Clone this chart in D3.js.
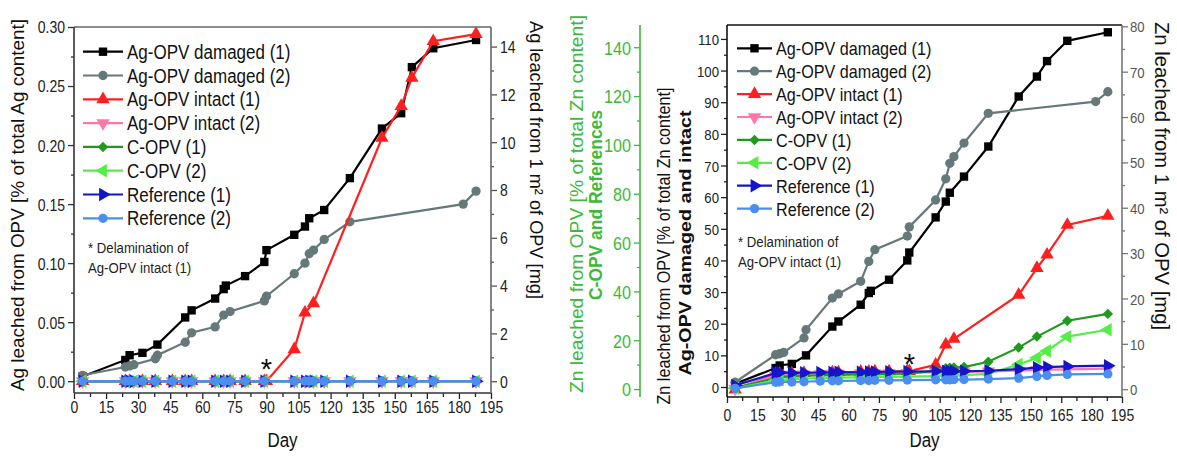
<!DOCTYPE html>
<html><head><meta charset="utf-8">
<script src="https://cdn.jsdelivr.net/npm/d3@7"></script>
<style>body{margin:0;background:#fff}svg{display:block}</style>
</head><body><svg id="c" width="1177" height="457"></svg>
<script>
// ---------------- DATA ----------------
const seriesNames = ["Ag-OPV damaged (1)","Ag-OPV damaged (2)","Ag-OPV intact (1)","Ag-OPV intact (2)","C-OPV (1)","C-OPV (2)","Reference (1)","Reference (2)"];
const xTicks = [0,15,30,45,60,75,90,105,120,135,150,165,180,195];
const agTicks = [0.00,0.05,0.10,0.15,0.20,0.25,0.30];
const agMgTicks = [0,2,4,6,8,10,12,14];
const znTicks = [0,10,20,30,40,50,60,70,80,90,100,110];
const znGreenTicks = [0,20,40,60,80,100,120,140];
const znMgTicks = [0,10,20,30,40,50,60,70,80];

// Left panel: Ag leached [% of total Ag content]
const agDamaged1Days = [4,24,26,32,39,52,55,66,70,71,80,89,90,103,108,110,117,129,144,153,158,168,188];
const agDamaged1 = [0.004,0.018,0.022,0.024,0.031,0.054,0.060,0.070,0.078,0.081,0.089,0.101,0.111,0.124,0.131,0.138,0.145,0.172,0.214,0.227,0.266,0.282,0.289];
const agDamaged2Days = [4,24,26,28,38,39,52,55,66,70,73,89,90,103,108,110,112,117,129,182,188];
const agDamaged2 = [0.005,0.012,0.013,0.014,0.019,0.022,0.033,0.041,0.046,0.056,0.059,0.068,0.072,0.091,0.100,0.108,0.111,0.120,0.135,0.150,0.161];
const agIntact1Days = [4,24,26,32,38,46,52,55,66,70,73,80,89,90,103,108,112,144,153,158,168,188];
const agIntact1 = [0,0,0,0,0,0,0,0,0,0,0,0,0,0,0.027,0.058,0.066,0.206,0.233,0.257,0.288,0.294];
const agBaseDays = [4,24,26,28,32,38,46,52,55,66,70,73,80,89,103,108,110,112,117,129,144,153,158,168,188];
const agIntact2 = [0,0,0,0,0,0,0,0,0,0,0,0,0,0,0,0,0,0,0,0,0,0,0,0,0];
const agCOPV1   = [0,0,0,0,0,0,0,0,0,0,0,0,0,0,0,0,0,0,0,0,0,0,0,0,0];
const agCOPV2   = [0,0,0,0,0,0,0,0,0,0,0,0,0,0,0,0,0,0,0,0,0,0,0,0,0];
const agRef1    = [0,0,0,0,0,0,0,0,0,0,0,0,0,0,0,0,0,0,0,0,0,0,0,0,0];
const agRef2    = [0,0,0,0,0,0,0,0,0,0,0,0,0,0,0,0,0,0,0,0,0,0,0,0,0];

// Right panel: Zn leached [% of total Zn content]
const znDamaged1Days = [4,24,26,32,39,52,55,66,70,71,80,89,90,103,108,110,117,129,144,153,158,168,188];
const znDamaged1 = [1.0,6.0,6.8,7.3,10.0,19.1,20.7,26.0,29.7,30.4,33.9,40.0,42.5,53.6,58.6,61.4,66.5,76.0,91.8,98.1,103.0,109.4,112.1];
const znDamaged2Days = [4,24,26,28,38,39,52,55,66,70,73,89,90,103,108,110,112,117,129,182,188];
const znDamaged2 = [1.5,10.2,10.5,10.9,15.5,18.1,28.1,29.4,33.4,39.7,43.4,47.7,50.6,59.1,65.8,70.7,72.8,77.1,86.5,90.2,93.3];
const znIntact1Days = [4,24,26,32,38,52,55,66,70,73,80,89,90,103,108,112,144,153,158,168,188];
const znIntact1 = [-0.8,4.0,4.2,4.3,4.4,4.6,4.6,4.8,4.8,4.9,4.9,5.0,5.0,7.0,13.4,15.2,29.1,37.6,41.8,51.2,54.1];
const znBaseDays = [4,24,26,32,38,46,52,55,66,70,73,80,89,103,108,110,112,117,129,144,153,158,168,188];
const znIntact2 = [-0.5,3.6,3.8,3.9,4.0,4.1,4.2,4.2,4.3,4.3,4.4,4.4,4.5,4.6,4.6,4.6,4.7,4.7,4.9,5.2,5.4,5.5,5.6,5.8];
const znCOPV1Days = [4,24,26,32,38,46,52,55,66,70,73,80,89,103,108,110,112,117,129,144,153,168,188];
const znCOPV1 = [0.5,4.5,5.0,5.2,5.5,5.6,5.8,5.8,6.0,6.0,6.1,6.2,6.3,7.5,8.5,8.7,8.8,9.0,11.2,17.0,21.5,28.0,30.8];
const znCOPV2 = [0.3,3.5,3.8,4.0,4.3,4.5,4.6,4.7,4.8,4.9,5.0,5.0,5.1,5.3,5.5,5.5,5.6,5.7,6.2,10.1,12.8,15.6,21.5,24.3];
const znRef1 = [1.5,6.6,6.8,6.6,6.7,6.8,6.8,6.9,6.9,7.0,7.0,7.1,7.2,7.3,7.3,7.3,7.3,7.3,7.5,8.2,8.8,9.0,9.3,9.6];
const znRef2 = [0.3,2.8,3.0,2.9,3.0,3.3,3.4,3.4,3.5,3.5,3.6,3.6,3.7,3.8,3.8,3.8,3.9,3.9,4.1,4.5,5.2,5.6,6.0,6.2];

// ---------------- STYLE ----------------
const FONT = '"Liberation Sans", Arial, Helvetica, sans-serif';
const SQ = 0.85; // horizontal condensing of all text
const styles = [
  {color:"#000000", sym:"square"},
  {color:"#66797a", sym:"circle"},
  {color:"#ff1f1f", sym:"triUp"},
  {color:"#ff77a8", sym:"triDown"},
  {color:"#1f9a1f", sym:"diamond"},
  {color:"#55ee44", sym:"triLeft"},
  {color:"#1414cc", sym:"triRight"},
  {color:"#4a8ef0", sym:"circle"}
];
function symPath(s){
  if(s==="square") return {d:d3.symbol(d3.symbolSquare,70)(),rot:0};
  if(s==="circle") return {d:d3.symbol(d3.symbolCircle,68)(),rot:0};
  if(s==="diamond") return {d:d3.symbol(d3.symbolSquare,55)(),rot:45};
  const t=d3.symbol(d3.symbolTriangle,78)();
  return {d:t,rot:{triUp:0,triDown:180,triLeft:-90,triRight:90}[s]};
}
const svg = d3.select("#c");

function label(parent, s, o){
  const t = parent.append("text").text(s)
    .attr("font-family",FONT).attr("font-size",o.size||15)
    .attr("fill",o.fill||"#111").attr("font-weight",o.weight||"normal")
    .attr("text-anchor",o.anchor||"middle");
  const tr = `translate(${o.x},${o.y})` + (o.rot?` rotate(${o.rot})`:"");
  t.attr("transform",tr);
  const L = t.node().getComputedTextLength();
  const target = o.len || L*(o.sq===undefined?SQ:o.sq);
  t.attr("textLength",target).attr("lengthAdjust","spacingAndGlyphs");
  return t;
}

function styleAxis(g, o){
  g.select(".domain").remove();
  g.selectAll("line").attr("stroke",o.stroke||"#222").attr("stroke-width",1.3);
  g.selectAll("text").each(function(){
    const el=d3.select(this); const s=el.text(); const p=this.parentNode;
    const x=+el.attr("x")||0, y=+el.attr("y")||0;
    el.remove();
    if(s==="") return;
    label(d3.select(p), s, {x:o.dx!==undefined?o.dx:x, y:o.dy!==undefined?o.dy:y, size:o.size, fill:o.fill, anchor:o.anchor});
  });
}

function panel(p){
  const g = svg.append("g");
  const x = d3.scaleLinear().domain([0,195]).range([p.x0,p.x1]);
  const minorX = d3.range(7.5,195,15);
  g.append("g").attr("transform",`translate(0,${p.y1})`)
    .call(d3.axisBottom(x).tickValues(minorX).tickSize(4).tickFormat(""))
    .call(a=>{a.select(".domain").remove();a.selectAll("line").attr("stroke","#222").attr("stroke-width",1.3);});
  g.append("g").attr("transform",`translate(0,${p.y1})`)
    .call(d3.axisBottom(x).tickValues(xTicks).tickSize(6))
    .call(a=>styleAxis(a,{size:16.5,dy:p.xLabY,fill:"#222"}));
  for(const ax of p.yAxes){
    const gen = ax.side==="left"?d3.axisLeft:d3.axisRight;
    const ag = g.append("g").attr("transform",`translate(${ax.at},0)`);
    ag.append("g").call(gen(ax.scale).tickValues(ax.minor).tickSize(3).tickFormat(""))
      .call(a=>{a.select(".domain").remove();a.selectAll("line").attr("stroke",ax.stroke).attr("stroke-width",1.3);});
    ag.append("g").call(gen(ax.scale).tickValues(ax.ticks).tickSize(6).tickFormat(ax.fmt))
      .call(a=>styleAxis(a,{size:ax.size,fill:ax.fill,stroke:ax.stroke,anchor:ax.side==="left"?"end":"start",dx:ax.side==="left"?-ax.pad:ax.pad,dy:ax.size*0.36}));
    if(ax.line) ag.append("line").attr("x1",0).attr("x2",0).attr("y1",p.y0).attr("y2",p.y1).attr("stroke",ax.stroke).attr("stroke-width",1.6);
  }
  const f = p.frame;
  g.append("line").attr("x1",p.x0).attr("x2",p.x1).attr("y1",p.y0).attr("y2",p.y0).attr("stroke",f.top).attr("stroke-width",1.6);
  g.append("line").attr("x1",p.x0).attr("x2",p.x1).attr("y1",p.y1).attr("y2",p.y1).attr("stroke",f.bottom).attr("stroke-width",1.6);
  g.append("line").attr("x1",p.x0).attr("x2",p.x0).attr("y1",p.y0).attr("y2",p.y1).attr("stroke",f.left).attr("stroke-width",1.6);
  g.append("line").attr("x1",p.x1).attr("x2",p.x1).attr("y1",p.y0).attr("y2",p.y1).attr("stroke",f.right).attr("stroke-width",1.6);
  const plot = g.append("g");
  p.series.forEach((s,i)=>{
    const st = styles[i];
    const pts = s.days.map((d,j)=>[x(d), s.scale(s.vals[j])]);
    plot.append("path").attr("d",d3.line()(pts)).attr("fill","none").attr("stroke",st.color).attr("stroke-width",2.2);
    const sp = symPath(st.sym);
    plot.selectAll(null).data(pts).join("path").attr("d",sp.d)
      .attr("transform",d=>`translate(${d[0]},${d[1]}) rotate(${sp.rot})`).attr("fill",st.color);
  });
  const lg = g.append("g");
  seriesNames.forEach((n,i)=>{
    const st = styles[i]; const cy = p.leg.y + i*p.leg.dy;
    lg.append("line").attr("x1",p.leg.x).attr("x2",p.leg.x+p.leg.w).attr("y1",cy).attr("y2",cy).attr("stroke",st.color).attr("stroke-width",2.2);
    const sp = symPath(st.sym);
    lg.append("path").attr("d",sp.d).attr("transform",`translate(${p.leg.x+p.leg.w/2},${cy}) rotate(${sp.rot})`).attr("fill",st.color);
    label(lg, n, {x:p.leg.x+p.leg.w+4, y:cy+7, size:p.leg.size, anchor:"start", fill:"#111"});
  });
  label(g,"* Delamination of",{x:p.note.x,y:p.note.y,size:15.5,anchor:"start",fill:"#222"});
  label(g,"Ag-OPV intact (1)",{x:p.note.x,y:p.note.y+20,size:15.5,anchor:"start",fill:"#222"});
  label(g,"*",{x:x(90),y:p.star,size:29,anchor:"middle",fill:"#111",sq:1});
  label(g,"Day",{x:(p.x0+p.x1)/2,y:447,size:20,fill:"#111"});
  return {g,x};
}

// ---------- LEFT PANEL ----------
const L = {x0:74,x1:491,y0:27,y1:393};
const yAg = d3.scaleLinear().domain([-0.01,0.30]).range([L.y1,L.y0]);
const yAgMg = d3.scaleLinear().domain([-0.494,14.82]).range([L.y1,L.y0]);
panel({
  ...L, xLabY:20,
  frame:{top:"#666",bottom:"#333",left:"#333",right:"#666"},
  yAxes:[
    {side:"left",at:L.x0,scale:yAg,ticks:agTicks,minor:d3.range(0.025,0.30,0.05),fmt:d3.format(".2f"),size:16.5,fill:"#222",stroke:"#333",pad:9},
    {side:"right",at:L.x1,scale:yAgMg,ticks:agMgTicks,minor:[1,3,5,7,9,11,13],fmt:d3.format("d"),size:16.5,fill:"#222",stroke:"#555",pad:9}
  ],
  series:[
    {days:agDamaged1Days,vals:agDamaged1,scale:yAg},
    {days:agDamaged2Days,vals:agDamaged2,scale:yAg},
    {days:agIntact1Days,vals:agIntact1,scale:yAg},
    {days:agBaseDays,vals:agIntact2,scale:yAg},
    {days:agBaseDays,vals:agCOPV1,scale:yAg},
    {days:agBaseDays,vals:agCOPV2,scale:yAg},
    {days:agBaseDays,vals:agRef1,scale:yAg},
    {days:agBaseDays,vals:agRef2,scale:yAg}
  ],
  leg:{x:83,w:40,y:51.7,dy:23.8,size:20},
  note:{x:88,y:253},
  star:379
});
label(svg,"Ag leached from OPV [% of total Ag content]",{x:24,y:205,rot:-90,size:18.5,fill:"#111",len:372});
label(svg,"Ag leached from 1 m² of OPV [mg]",{x:530,y:160,rot:90,size:18.5,fill:"#111",len:278});

// ---------- RIGHT PANEL ----------
const R = {x0:727,x1:1122,y0:25,y1:397};
const yZn = d3.scaleLinear().domain([-3.16,114.4]).range([R.y1,R.y0]);
const yZnG = d3.scaleLinear().domain([-3.24,149.1]).range([R.y1,R.y0]);
const yZnMg = d3.scaleLinear().domain([-1.72,80.29]).range([R.y1,R.y0]);
panel({
  ...R, xLabY:24,
  frame:{top:"#111",bottom:"#111",left:"#111",right:"#777"},
  yAxes:[
    {side:"left",at:R.x0,scale:yZn,ticks:znTicks,minor:d3.range(5,115,10),fmt:d3.format("d"),size:15.5,fill:"#222",stroke:"#222",pad:8},
    {side:"left",at:640,scale:yZnG,ticks:znGreenTicks,minor:d3.range(10,150,20),fmt:d3.format("d"),size:19,fill:"#3cb93c",stroke:"#3cb93c",pad:9,line:true},
    {side:"right",at:R.x1,scale:yZnMg,ticks:znMgTicks,minor:d3.range(5,80,10),fmt:d3.format("d"),size:15.5,fill:"#555",stroke:"#777",pad:8}
  ],
  series:[
    {days:znDamaged1Days,vals:znDamaged1,scale:yZn},
    {days:znDamaged2Days,vals:znDamaged2,scale:yZn},
    {days:znIntact1Days,vals:znIntact1,scale:yZn},
    {days:znBaseDays,vals:znIntact2,scale:yZn},
    {days:znCOPV1Days,vals:znCOPV1,scale:yZnG},
    {days:znBaseDays,vals:znCOPV2,scale:yZnG},
    {days:znBaseDays,vals:znRef1,scale:yZnG},
    {days:znBaseDays,vals:znRef2,scale:yZnG}
  ],
  leg:{x:737,w:35,y:48.3,dy:22.9,size:19},
  note:{x:738,y:247},
  star:374
});
label(svg,"Zn leached from OPV [% of total Zn content]",{x:583,y:204,rot:-90,size:18.5,fill:"#3cb93c",len:378});
label(svg,"C-OPV and References",{x:602,y:205,rot:-90,size:18,weight:"bold",fill:"#3cb93c",len:190});
label(svg,"Zn leached from OPV [% of total Zn content]",{x:670,y:246,rot:-90,size:18.5,fill:"#111",len:317});
label(svg,"Ag-OPV damaged and intact",{x:691,y:243,rot:-90,size:17,weight:"bold",fill:"#111",len:265});
label(svg,"Zn leached from 1 m² of OPV [mg]",{x:1155,y:176,rot:90,size:19.5,fill:"#111",len:308});
</script></body></html>
